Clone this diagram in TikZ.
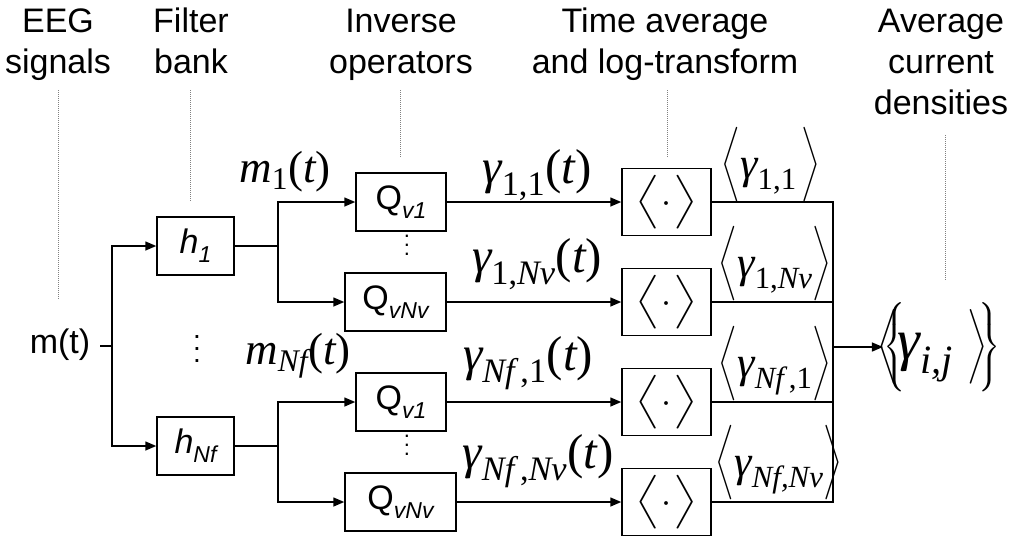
\RequirePackage{fix-cm}
\documentclass[tikz,border=0pt]{standalone}
\usepackage{amsmath}
\usepackage{graphicx}
\usepackage{fontspec}
\setmainfont{Liberation Sans}
\newfontfamily\tms{Liberation Serif}
\usetikzlibrary{arrows.meta}
\newcommand\tmi[1]{\text{\tms\itshape #1}}
\newcommand\tmr[1]{\text{\tms #1}}
\newcommand\hdrtxt[1]{\begin{tabular}[t]{@{}c@{}}#1\end{tabular}}
\newcommand\sbs[1]{\raisebox{-9pt}{\fontsize{23}{23}\selectfont\itshape #1}}
\newcommand\vdts[1]{\vbox{\baselineskip=#1\lineskiplimit=0pt\hbox{.}\hbox{.}\hbox{.}}}
\newcommand\avgsym{$\scalebox{1.6}[1.2]{$\big\langle$}\kern2pt{\cdot}\kern2pt\scalebox{1.6}[1.2]{$\big\rangle$}$}
\newcommand\labr[1]{$\scalebox{1}[1.25]{$\big\langle$}#1\scalebox{1}[1.25]{$\big\rangle$}$}
\begin{document}
\begin{tikzpicture}[x=1pt,y=-1pt,
  hdr/.style={anchor=base, inner sep=0pt, font=\fontsize{34}{41}\selectfont},
  blk/.style={draw, line width=1.5pt, minimum height=58pt, inner sep=0pt, font=\fontsize{34}{34}\selectfont},
  avgbox/.style={draw, line width=1.5pt, minimum width=89pt, minimum height=67pt, inner sep=0pt, font=\fontsize{36}{36}\selectfont},
  mlbl/.style={inner sep=0pt, font=\fontsize{45}{45}\selectfont},
  lbl/.style={inner sep=0pt, font=\fontsize{49}{49}\selectfont},
  blbl/.style={inner sep=0pt, font=\fontsize{44}{44}\selectfont},
  dts/.style={inner sep=0pt},
  guide/.style={gray, line width=0.8pt, dash pattern=on 1pt off 1pt},
  wire/.style={line width=1.5pt},
  arr/.style={wire, -{Triangle[length=11pt,width=9pt]}}]
\useasboundingbox (0,0) rectangle (1013,539);
% headers
\node[hdr] (hEEG) at (58,32) {\hdrtxt{EEG\\signals}};
\node[hdr] (hFil) at (191,32) {\hdrtxt{Filter\\bank}};
\node[hdr] (hInv) at (401,32) {\hdrtxt{Inverse\\operators}};
\node[hdr] (hTime) at (665,32) {\hdrtxt{Time average\\and log-transform}};
\node[hdr] (hAvg) at (941,32) {\hdrtxt{Average\\current\\densities}};
% guide lines
\coordinate (gE1) at (58,90);  \coordinate (gE2) at (58,300);
\coordinate (gF1) at (190,90); \coordinate (gF2) at (190,202);
\coordinate (gI1) at (400,90); \coordinate (gI2) at (400,158);
\coordinate (gT1) at (667,90); \coordinate (gT2) at (667,158);
\coordinate (gA1) at (945,135); \coordinate (gA2) at (945,280);
\draw[guide] (gE1) -- (gE2);
\draw[guide] (gF1) -- (gF2);
\draw[guide] (gI1) -- (gI2);
\draw[guide] (gT1) -- (gT2);
\draw[guide] (gA1) -- (gA2);
% input
\node[inner sep=0pt, font=\fontsize{34}{34}\selectfont, anchor=base] (mt) at (60,353) {m(t)};
\coordinate (m0) at (112,346);
\draw[wire] ([xshift=10pt]mt.east |- m0) -- (m0);
% filter boxes
\node[blk, minimum width=77pt] (h1) at (195.5,246) {\itshape h\sbs{1}};
\node[blk, minimum width=77pt] (hN) at (195.5,446) {\itshape h\sbs{Nf}};
\draw[arr] (m0) |- (h1.west);
\draw[arr] (m0) |- (hN.west);
\node[dts, font=\fontsize{28}{28}\selectfont] (dh) at (197,349) {\vdts{12pt}};
% inverse operators
\node[blk, minimum width=90pt] (q11) at (401,202) {Q\sbs{v1}};
\node[blk, minimum width=101pt] (q12) at (395.5,302) {Q\sbs{vNv}};
\node[blk, minimum width=90pt] (q21) at (401,402) {Q\sbs{v1}};
\node[blk, minimum width=111pt] (q22) at (400.5,502) {Q\sbs{vNv}};
\node[dts, font=\fontsize{22}{22}\selectfont] (dq1) at (407,245) {\vdts{9pt}};
\node[dts, font=\fontsize{22}{22}\selectfont] (dq2) at (407,445) {\vdts{9pt}};
\coordinate (s1) at (278,246);
\coordinate (s2) at (278,446);
\draw[wire] (h1.east) -- (s1);
\draw[wire] (hN.east) -- (s2);
\draw[arr] (s1) |- (q11.west);
\draw[arr] (s1) |- (q12.west);
\draw[arr] (s2) |- (q21.west);
\draw[arr] (s2) |- (q22.west);
\node[mlbl] (lm1) at (285,172) {$\tmi{m}_{\tmr{1}}\tmr{(}\tmi{t}\tmr{)}$};
\node[mlbl] (lmN) at (298,356) {$\tmi{m}_{\tmi{Nf}}\tmr{(}\tmi{t}\tmr{)}$};
% averaging boxes
\node[avgbox] (a1) at (666.5,202) {\avgsym};
\node[avgbox] (a2) at (666.5,302) {\avgsym};
\node[avgbox] (a3) at (666.5,402) {\avgsym};
\node[avgbox] (a4) at (666.5,502) {\avgsym};
\draw[arr] (q11.east) -- (a1.west);
\draw[arr] (q12.east) -- (a2.west);
\draw[arr] (q21.east) -- (a3.west);
\draw[arr] (q22.east) -- (a4.west);
\node[lbl] (g11) at (537,175) {$\tmi{γ}_{\tmr{1,1}}\tmr{(}\tmi{t}\tmr{)}$};
\node[lbl] (g1N) at (537,264) {$\tmi{γ}_{\tmr{1,}\tmi{Nv}}\tmr{(}\tmi{t}\tmr{)}$};
\node[lbl] (gN1) at (528,363) {$\tmi{γ}_{\tmi{Nf}\tmr{\,,1}}\tmr{(}\tmi{t}\tmr{)}$};
\node[lbl] (gNN) at (538,461) {$\tmi{γ}_{\tmi{Nf}\tmr{\,,}\tmi{Nv}}\tmr{(}\tmi{t}\tmr{)}$};
% outputs
\coordinate (j) at (833,347);
\draw[wire] (a1.east) -| (j);
\draw[wire] (a2.east) -| (j);
\draw[wire] (a3.east) -| (j);
\draw[wire] (a4.east) -| (j);
\node[blbl] (b11) at (771,165) {\labr{\tmi{γ}_{\tmr{1,1}}\mkern2mu}};
\node[blbl] (b1N) at (775,264) {\labr{\tmi{γ}_{\tmr{1,}\tmi{Nv}}}};
\node[blbl] (bN1) at (775,364) {\labr{\tmi{γ}_{\tmi{Nf}\tmr{\,,1}}}};
\node[blbl] (bNN) at (779,463) {\labr{\tmi{γ}_{\tmi{Nf,Nv}}}};
\node[inner sep=0pt, font=\fontsize{50}{50}\selectfont] (res) at (942,347) {$\Big\{\mkern-10mu\Big\langle\scalebox{1.15}{$\tmi{γ}_{\tmi{i,j}}$}\mkern5mu\Big\rangle\mkern-3mu\Big\}$};
\draw[arr] (j) -- (res.west);
\end{tikzpicture}
\end{document}
